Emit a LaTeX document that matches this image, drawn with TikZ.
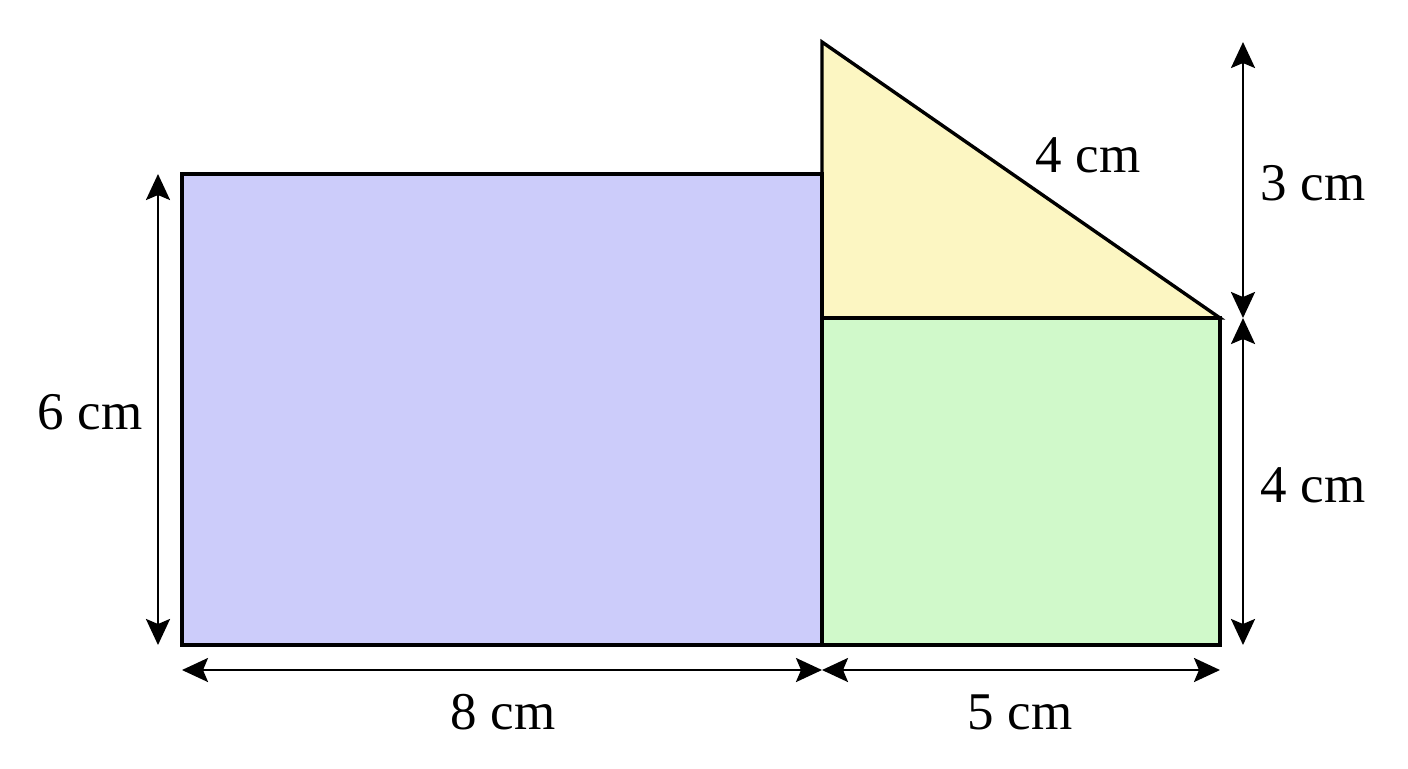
\documentclass[tikz,border=0pt]{standalone}
\usepackage{fontspec}
\setmainfont{Liberation Serif}
\usetikzlibrary{arrows.meta}
\definecolor{cblue}{HTML}{CCCCFA}
\definecolor{cyellow}{HTML}{FCF6C2}
\definecolor{cgreen}{HTML}{D0F9CA}
\tikzset{
  outl/.style={draw=black, line width=1.7pt, line join=miter},
  tipx/.tip={Stealth[length=13pt,width=12pt,inset=2.5pt]},
  dim/.style={line width=1.3pt, tipx-tipx},
  lab/.style={font=\fontsize{26.5}{30}\selectfont, inner sep=0pt}
}
\begin{document}
\begin{tikzpicture}[x=0.5pt,y=-0.5pt]
\useasboundingbox (0,0) rectangle (1408,768);
% corners
\coordinate (A) at (182,174);
\coordinate (B) at (822,174);
\coordinate (C) at (822,645);
\coordinate (D) at (182,645);
\coordinate (T) at (822,42);
\coordinate (E) at (822,318);
\coordinate (F) at (1220,318);
\coordinate (G) at (1220,645);
\fill[cblue] (A) rectangle (C);
\fill[cgreen] (E) rectangle (G);
\fill[cyellow] (T) -- (F) -- (E) -- cycle;
\draw[outl] (A) rectangle (C);
\draw[outl] (E) rectangle (G);
\draw[outl] (T) -- (F) -- (E) -- cycle;
% dimension ends
\coordinate (l1) at (158,174);
\coordinate (l2) at (158,645);
\coordinate (b1) at (182,670);
\coordinate (b2) at (822,670);
\coordinate (b3) at (1220,670);
\coordinate (r1) at (1243,42);
\coordinate (r2) at (1243,318);
\coordinate (r3) at (1243,645);
\draw[dim] (l1) -- (l2);
\draw[dim] (b1) -- (b2);
\draw[dim] (b2) -- (b3);
\draw[dim] (r1) -- (r2);
\draw[dim] (r2) -- (r3);
\node[lab] (n6) at (90,412) {6 cm};
\node[lab] (n8) at (503,712) {8 cm};
\node[lab] (n5) at (1020,712) {5 cm};
\node[lab] (n3) at (1313,183) {3 cm};
\node[lab] (n4r) at (1313,485) {4 cm};
\node[lab] (n4h) at (1088,155) {4 cm};
\end{tikzpicture}
\end{document}
